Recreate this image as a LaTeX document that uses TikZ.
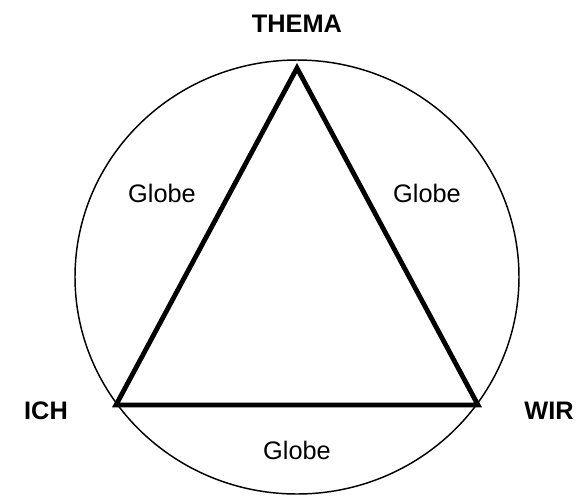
\documentclass[tikz,border=0pt]{standalone}
\usepackage{fontspec}
\setmainfont{Liberation Sans}
\begin{document}
\begin{tikzpicture}[x=0.75pt,y=-0.75pt,
  lbl/.style={font=\fontsize{19}{22}\selectfont, inner sep=0pt},
  corner/.style={font=\bfseries\fontsize{19}{22}\selectfont, inner sep=0pt}]
\useasboundingbox (0,0) rectangle (576,501);
\draw[line width=1.1pt] (297,277) ellipse [x radius=222, y radius=217];
\coordinate (top) at (297,68);
\coordinate (bl) at (116,405);
\coordinate (br) at (478,405);
\draw[line width=3.6pt, line join=miter] (top) -- (br) -- (bl) -- cycle;
\node[corner] (thema) at (297,24) {THEMA};
\node[corner] (ich) at (46,411) {ICH};
\node[corner] (wir) at (549,411) {WIR};
\node[lbl] (g1) at (162,193) {Globe};
\node[lbl] (g2) at (427,193) {Globe};
\node[lbl] (g3) at (297,450) {Globe};
\end{tikzpicture}
\end{document}
